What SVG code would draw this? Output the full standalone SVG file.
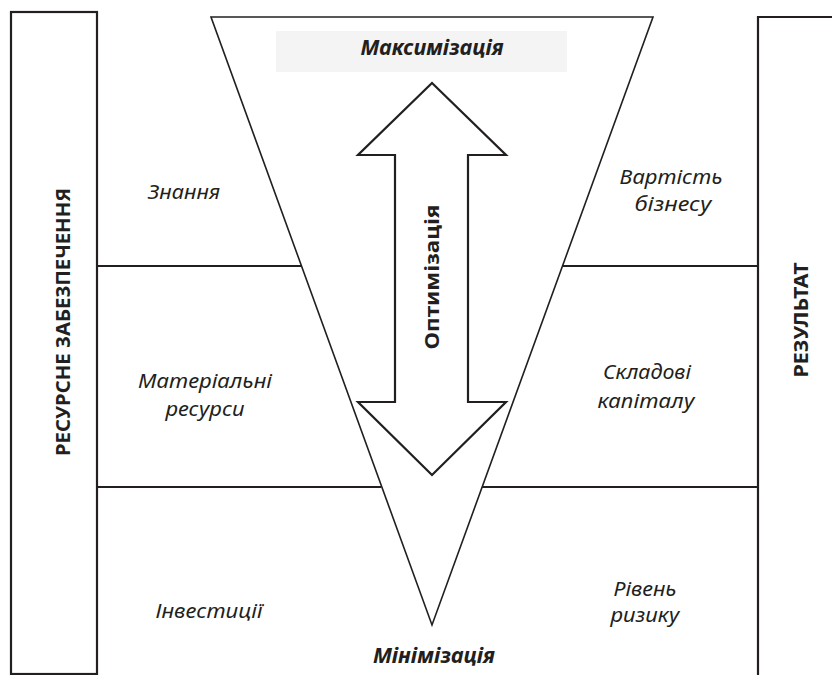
<svg xmlns="http://www.w3.org/2000/svg" width="832" height="675" viewBox="0 0 832 675">
<style>
.frame{fill:none;stroke:#231f20;stroke-width:2.2}
.thin{fill:none;stroke:#231f20;stroke-width:1.6}
.line{stroke:#231f20;stroke-width:2.2}
.lbl{font-family:"Noto Sans","Open Sans","DejaVu Sans",sans-serif;font-style:italic;font-size:20px;fill:#231f20;text-anchor:middle}
.bi{font-family:"Noto Sans","Open Sans","DejaVu Sans",sans-serif;font-style:italic;font-weight:bold;font-size:21px;fill:#231f20;text-anchor:middle}
.vb{font-family:"Noto Sans","Open Sans","DejaVu Sans",sans-serif;font-weight:bold;font-size:20px;fill:#231f20;text-anchor:middle}
</style>
<rect width="832" height="675" fill="#ffffff"/>
<g id="left-box">
<rect class="frame" x="11" y="12" width="86" height="662"/>
<text class="vb" transform="translate(70,322) rotate(-90)" textLength="268" lengthAdjust="spacingAndGlyphs">РЕСУРСНЕ ЗАБЕЗПЕЧЕННЯ</text>
</g>
<g id="right-box">
<path class="frame" d="M840,17 H758 V690"/>
<text class="vb" transform="translate(808,320) rotate(-90)" textLength="115" lengthAdjust="spacingAndGlyphs">РЕЗУЛЬТАТ</text>
</g>
<g id="connectors">
<line class="line" x1="97" y1="266" x2="302" y2="266"/>
<line class="line" x1="562" y1="266" x2="758" y2="266"/>
<line class="line" x1="97" y1="487" x2="381" y2="487"/>
<line class="line" x1="482" y1="487" x2="758" y2="487"/>
</g>
<g id="funnel">
<polygon class="thin" points="211,17 653,17 432,625"/>
<rect x="276" y="31" width="291" height="41" fill="#f4f4f4"/>
<text class="bi" x="432" y="55" textLength="143" lengthAdjust="spacingAndGlyphs">Максимізація</text>
<text class="bi" x="434" y="663" textLength="122" lengthAdjust="spacingAndGlyphs">Мінімізація</text>
</g>
<g id="arrow">
<polygon class="frame" points="432,83 506,155 468,155 468,402 506,402 432,475 358,402 395,402 395,155 358,155"/>
<text class="vb" transform="translate(439,277) rotate(-90)" textLength="145" lengthAdjust="spacingAndGlyphs">Оптимізація</text>
</g>
<g id="left-labels">
<text class="lbl" x="184" y="199" textLength="72" lengthAdjust="spacingAndGlyphs">Знання</text>
<text class="lbl" x="205" y="388" textLength="134" lengthAdjust="spacingAndGlyphs">Матеріальні</text>
<text class="lbl" x="205" y="416" textLength="79" lengthAdjust="spacingAndGlyphs">ресурси</text>
<text class="lbl" x="209" y="618" textLength="107" lengthAdjust="spacingAndGlyphs">Інвестиції</text>
</g>
<g id="right-labels">
<text class="lbl" x="671" y="184" textLength="103" lengthAdjust="spacingAndGlyphs">Вартість</text>
<text class="lbl" x="673" y="211" textLength="77" lengthAdjust="spacingAndGlyphs">бізнесу</text>
<text class="lbl" x="647" y="379" textLength="88" lengthAdjust="spacingAndGlyphs">Складові</text>
<text class="lbl" x="646" y="408" textLength="97" lengthAdjust="spacingAndGlyphs">капіталу</text>
<text class="lbl" x="645" y="596" textLength="63" lengthAdjust="spacingAndGlyphs">Рівень</text>
<text class="lbl" x="645" y="622" textLength="69" lengthAdjust="spacingAndGlyphs">ризику</text>
</g>
</svg>
